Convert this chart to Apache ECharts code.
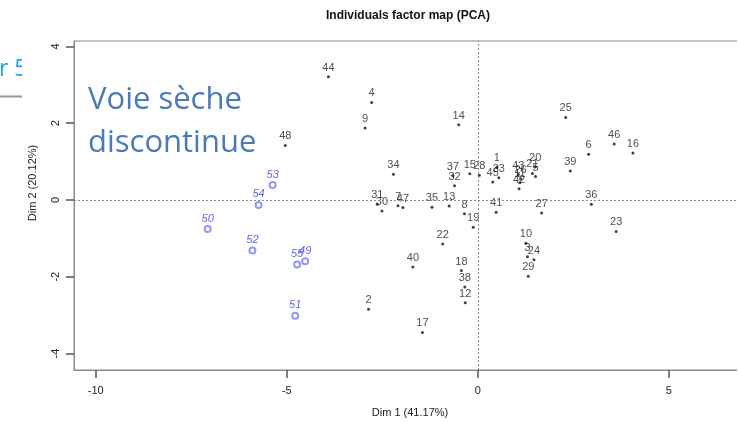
<!DOCTYPE html>
<html>
<head>
<meta charset="utf-8">
<script src="https://cdn.jsdelivr.net/npm/echarts@6/dist/echarts.min.js"></script>
<style>html,body{margin:0;padding:0;background:#fff;}#c{width:738px;height:422px;}</style>
</head>
<body>
<div id="c"></div>
<script>
// Active individuals (black)
const blackIds = ['1','2','3','4','5','6','7','8','9','10','11','12','13','14','15','16','17','18','19','20','21','22','23','24','25','26','27','28','29','30','31','32','33','34','35','36','37','38','39','40','41','42','43','44','45','46','47','48'];
const blackX = [0.50,-2.86,1.30,-2.78,1.51,2.90,-2.09,-0.35,-2.95,1.26,1.10,-0.33,-0.75,-0.50,-0.21,4.06,-1.45,-0.43,-0.12,1.50,1.43,-0.92,3.62,1.47,2.30,1.12,1.67,0.04,1.32,-2.51,-2.63,-0.61,0.55,-2.21,-1.20,2.97,-0.65,-0.34,2.42,-1.70,0.48,1.08,1.06,-3.91,0.39,3.57,-1.96,-5.04];
const blackY = [0.85,-2.85,-1.48,2.54,0.61,1.19,-0.15,-0.36,1.875,-1.13,0.45,-2.68,-0.16,1.96,0.68,1.22,-3.45,-1.84,-0.71,0.86,0.69,-1.15,-0.82,-1.56,2.15,0.55,-0.34,0.64,-1.99,-0.29,-0.11,0.37,0.58,0.67,-0.19,-0.11,0.63,-2.27,0.755,-1.75,-0.32,0.29,0.66,3.21,0.47,1.46,-0.20,1.42];
// Supplementary individuals (blue)
const blueIds = ['49','50','51','52','53','54','55'];
const blueX = [-4.52,-7.07,-4.78,-5.90,-5.37,-5.74,-4.73];
const blueY = [-1.60,-0.76,-3.02,-1.32,0.39,-0.13,-1.68];
// Axis ticks
const xTicks = [-10,-5,0,5];
const yTicks = [-4,-2,0,2,4];
const chartTitle = 'Individuals factor map (PCA)';
const xTitle = 'Dim 1 (41.17%)';
const yTitle = 'Dim 2 (20.12%)';

const FONT = 'Liberation Sans, Arial, sans-serif';
const blackData = blackIds.map((id,i)=>({name:id, value:[blackX[i], blackY[i]]}));
const blueData = blueIds.map((id,i)=>({name:id, value:[blueX[i], blueY[i]]}));

const chart = echarts.init(document.getElementById('c'));
chart.setOption({
  animation:false,
  backgroundColor:'#fff',
  grid:{left:74, top:41, bottom:52, right:0, show:true, borderColor:'#8a8a8a', borderWidth:1},
  xAxis:{type:'value', min:-10.57, max:6.81,
    splitLine:{show:false}, axisLine:{show:true, onZero:false, lineStyle:{color:'#8a8a8a'}},
    axisTick:{show:true, length:8, customValues:xTicks, lineStyle:{color:'#555', width:1.5}},
    axisLabel:{customValues:xTicks, color:'#222', fontFamily:FONT, fontSize:11, margin:15}},
  yAxis:{type:'value', min:-4.43, max:4.14,
    splitLine:{show:false}, axisLine:{show:true, onZero:false, lineStyle:{color:'#8a8a8a'}},
    axisTick:{show:true, length:8, customValues:yTicks, lineStyle:{color:'#555', width:1.5}},
    axisLabel:{customValues:yTicks, rotate:90, color:'#222', fontFamily:FONT, fontSize:11, margin:13}},
  series:[
    {type:'scatter', data:blackData, symbol:'circle', symbolSize:3,
     itemStyle:{color:'#111'},
     label:{show:true, position:'top', distance:2, formatter:'{b}', color:'#222', fontFamily:FONT, fontSize:11},
     markLine:{silent:true, symbol:'none', label:{show:false},
       lineStyle:{color:'#8a8a8a', type:[2,2], width:1},
       data:[{xAxis:0},{yAxis:0}]},
     z:3},
    {type:'scatter', data:blueData, symbol:'emptyCircle', symbolSize:6,
     itemStyle:{color:'#7c7cf0', borderWidth:0.6},
     label:{show:true, position:'top', distance:1, formatter:'{b}', color:'#3838d8', fontStyle:'italic', fontFamily:FONT, fontSize:11},
     z:3}
  ],
  graphic:[
    {type:'rect', shape:{x:737, y:40, width:2, height:332}, style:{fill:'#fff'}, z:100},
    {type:'text', style:{text:'r 5', x:-1, y:58, textVerticalAlign:'alphabetic', font:'23px Open Sans, sans-serif', fill:'#29a3d9'}},
    {type:'rect', shape:{x:22, y:35, width:50, height:40}, style:{fill:'#fff'}},
    {type:'rect', shape:{x:0, y:95.5, width:22, height:2}, style:{fill:'#999'}},
    {type:'text', style:{text:'Voie sèche', x:88, y:85, textVerticalAlign:'alphabetic', font:'31px Open Sans, sans-serif', fill:'#4a7bb7'}},
    {type:'text', style:{text:'discontinue', x:88, y:128, textVerticalAlign:'alphabetic', font:'31px Open Sans, sans-serif', fill:'#4a7bb7'}},
    {type:'text', style:{text:chartTitle, x:408, y:16, textAlign:'center', textVerticalAlign:'middle', font:'bold 12px '+FONT, fill:'#111'}},
    {type:'text', style:{text:xTitle, x:410, y:413, textAlign:'center', textVerticalAlign:'middle', font:'11px '+FONT, fill:'#222'}},
    {type:'text', rotation:Math.PI/2, x:33, y:183, style:{text:yTitle, x:0, y:0, textAlign:'center', textVerticalAlign:'middle', font:'11px '+FONT, fill:'#222'}}
  ]
});
</script>
</body>
</html>
